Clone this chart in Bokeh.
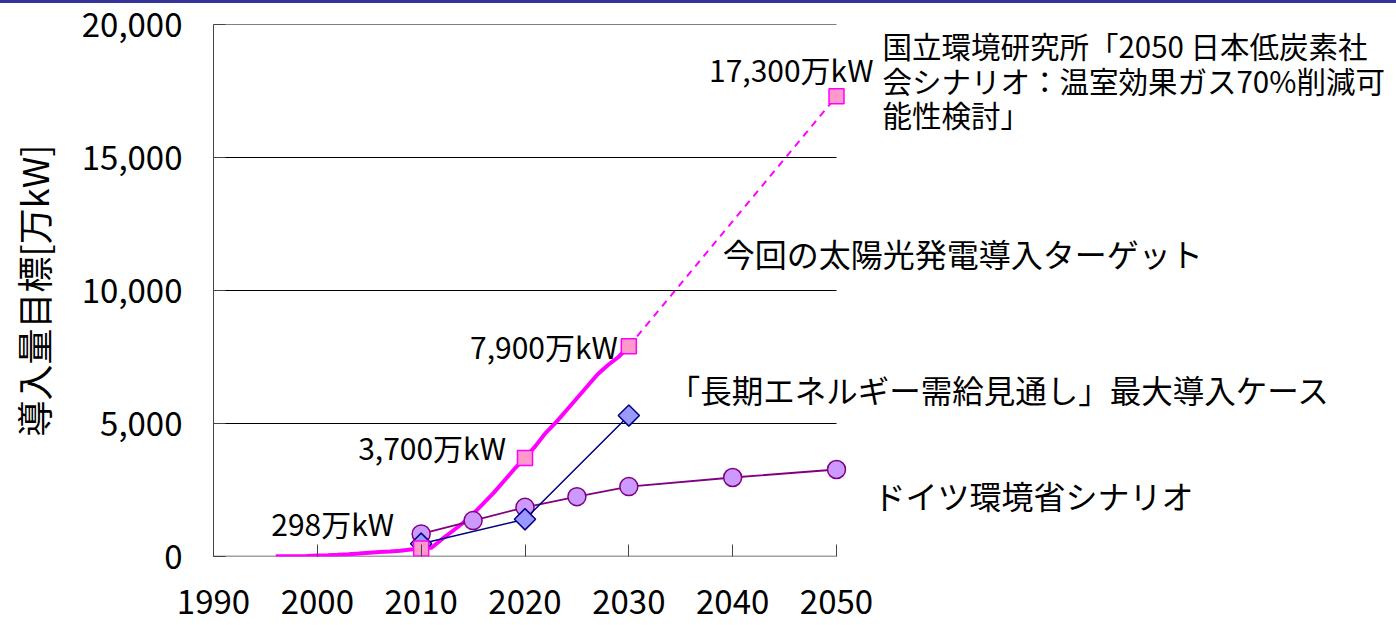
from bokeh.plotting import figure
from bokeh.models import Label, FixedTicker, NumeralTickFormatter, InlineStyleSheet
from bokeh.embed import file_html
from bokeh.resources import INLINE
import math

# ---- data ----
pv_years = [1996, 1997, 1998, 1999, 2000, 2001, 2002, 2003, 2004, 2005, 2006, 2007, 2008, 2009, 2010,
            2011, 2012, 2013, 2014, 2015, 2016, 2017, 2018, 2019, 2020,
            2021, 2022, 2023, 2024, 2025, 2026, 2027, 2028, 2029, 2030]
pv_vals = [6, 9, 13, 21, 33, 45, 64, 86, 113, 142, 171, 192, 214, 263, 298,
           330, 650, 950, 1250, 1600, 2000, 2400, 2850, 3300, 3700,
           4150, 4650, 5050, 5500, 5950, 6400, 6850, 7200, 7500, 7900]
target_years = [2010, 2020, 2030, 2050]
target_vals = [298, 3700, 7900, 17300]
nies_years = [2030, 2050]
nies_vals = [7900, 17300]
meti_years = [2010, 2020, 2030]
meti_vals = [480, 1400, 5300]
de_years = [2010, 2015, 2020, 2025, 2030, 2040, 2050]
de_vals = [850, 1350, 1850, 2250, 2630, 2970, 3270]
x_ticks = [1990, 2000, 2010, 2020, 2030, 2040, 2050]
y_ticks = [0, 5000, 10000, 15000, 20000]

FONT = "Noto Sans CJK JP"
AXIS_COLOR = "#444444"

# layout (pixels)
W, H = 1396, 625
LEFT, PLOT_RIGHT, TOP, BOTTOM = 213, 836, 24, 556
px_per_year = (PLOT_RIGHT - LEFT) / (x_ticks[-1] - x_ticks[0])
x_end = x_ticks[-1] + (W - PLOT_RIGHT) / px_per_year   # frame extends to page edge so labels are not clipped

bar_css = InlineStyleSheet(css="""
:host::after {
  content: "";
  position: absolute;
  left: 0; top: 0;
  width: 100%; height: 3px;
  background: #333399;
  z-index: 10;
  pointer-events: none;
}
""")

p = figure(width=W, height=H, x_range=(x_ticks[0], x_end), y_range=(y_ticks[0], y_ticks[-1]),
           output_backend="svg", toolbar_location=None,
           min_border_left=LEFT, min_border_right=0, min_border_top=TOP,
           min_border_bottom=H - BOTTOM, stylesheets=[bar_css])
p.outline_line_color = None
p.background_fill_color = "white"
p.border_fill_color = "white"
p.xgrid.visible = False
p.ygrid.visible = False

p.xaxis.ticker = FixedTicker(ticks=x_ticks)
p.yaxis.ticker = FixedTicker(ticks=y_ticks)
p.yaxis.formatter = NumeralTickFormatter(format="0,0")
for ax in (p.xaxis, p.yaxis):
    ax.axis_line_color = AXIS_COLOR
    ax.major_tick_line_color = AXIS_COLOR
    ax.minor_tick_line_color = None
    ax.major_tick_out = 0
    ax.major_tick_in = 12
    ax.major_label_text_font = FONT
    ax.major_label_text_font_size = "33px"
    ax.major_label_text_color = "black"
p.xaxis.axis_line_color = None
p.xaxis.major_label_standoff = 33
p.yaxis.major_label_standoff = 31
p.yaxis.axis_label = "導入量目標[万kW]"
p.yaxis.axis_label_text_font = FONT
p.yaxis.axis_label_text_font_size = "36px"
p.yaxis.axis_label_text_font_style = "normal"
p.yaxis.axis_label_text_color = "black"
p.yaxis.axis_label_standoff = 20

# gridlines and x-axis line limited to the plotted years
n = len(y_ticks)
p.segment(x0=[x_ticks[0]] * (n - 1), x1=[x_ticks[-1]] * (n - 1), y0=y_ticks[1:], y1=y_ticks[1:],
          line_color="black", line_width=1)
p.segment(x0=[x_ticks[0]], x1=[x_ticks[-1]], y0=[y_ticks[0]], y1=[y_ticks[0]],
          line_color=AXIS_COLOR, line_width=1.5)

# series
p.line(pv_years, pv_vals, line_color="#ff00ff", line_width=4)
p.line(nies_years, nies_vals, line_color="#ff00ff", line_width=2, line_dash="7 6")
p.line(de_years, de_vals, line_color="#800080", line_width=1.8)
p.scatter(de_years, de_vals, marker="circle", size=18, fill_color="#cc99ff",
          line_color="#800080", line_width=1.5)
p.line(meti_years, meti_vals, line_color="#000080", line_width=1.5)
p.scatter(meti_years, meti_vals, marker="square", angle=math.pi / 4, size=15,
          fill_color="#9999ff", line_color="#000080", line_width=1.5)
p.scatter(target_years, target_vals, marker="square", size=15, fill_color="#ff99cc",
          line_color="#ff00ff", line_width=1.5)

def add_label(x, y, text, dx, dy, align, size="31px"):
    p.add_layout(Label(x=x, y=y, text=text, x_offset=dx, y_offset=dy,
                       text_align=align, text_baseline="middle",
                       text_font=FONT, text_font_size=size, text_color="black"))

# value labels
val_offsets = [(-27, 26), (-19, 11), (-11, 0), (37, 27)]
for yr, v, (dx, dy) in zip(target_years, target_vals, val_offsets):
    add_label(yr, v, f"{v:,}万kW", dx, dy, "right", "30px")

# series labels
add_label(2050, 17300, "国立環境研究所「2050 日本低炭素社", 46, 51, "left", "29.5px")
add_label(2050, 17300, "会シナリオ：温室効果ガス70%削減可", 46, 16, "left", "29.5px")
add_label(2050, 17300, "能性検討」", 46, -18, "left", "29.5px")
add_label(2030, 7900, "今回の太陽光発電導入ターゲット", 94, 93, "left", "32px")
add_label(2030, 5300, "「長期エネルギー需給見通し」最大導入ケース", 40, 27, "left", "31.5px")
add_label(2050, 3270, "ドイツ環境省シナリオ", 37, -25, "left", "32px")

open("out.html", "w").write(file_html(p, INLINE))
